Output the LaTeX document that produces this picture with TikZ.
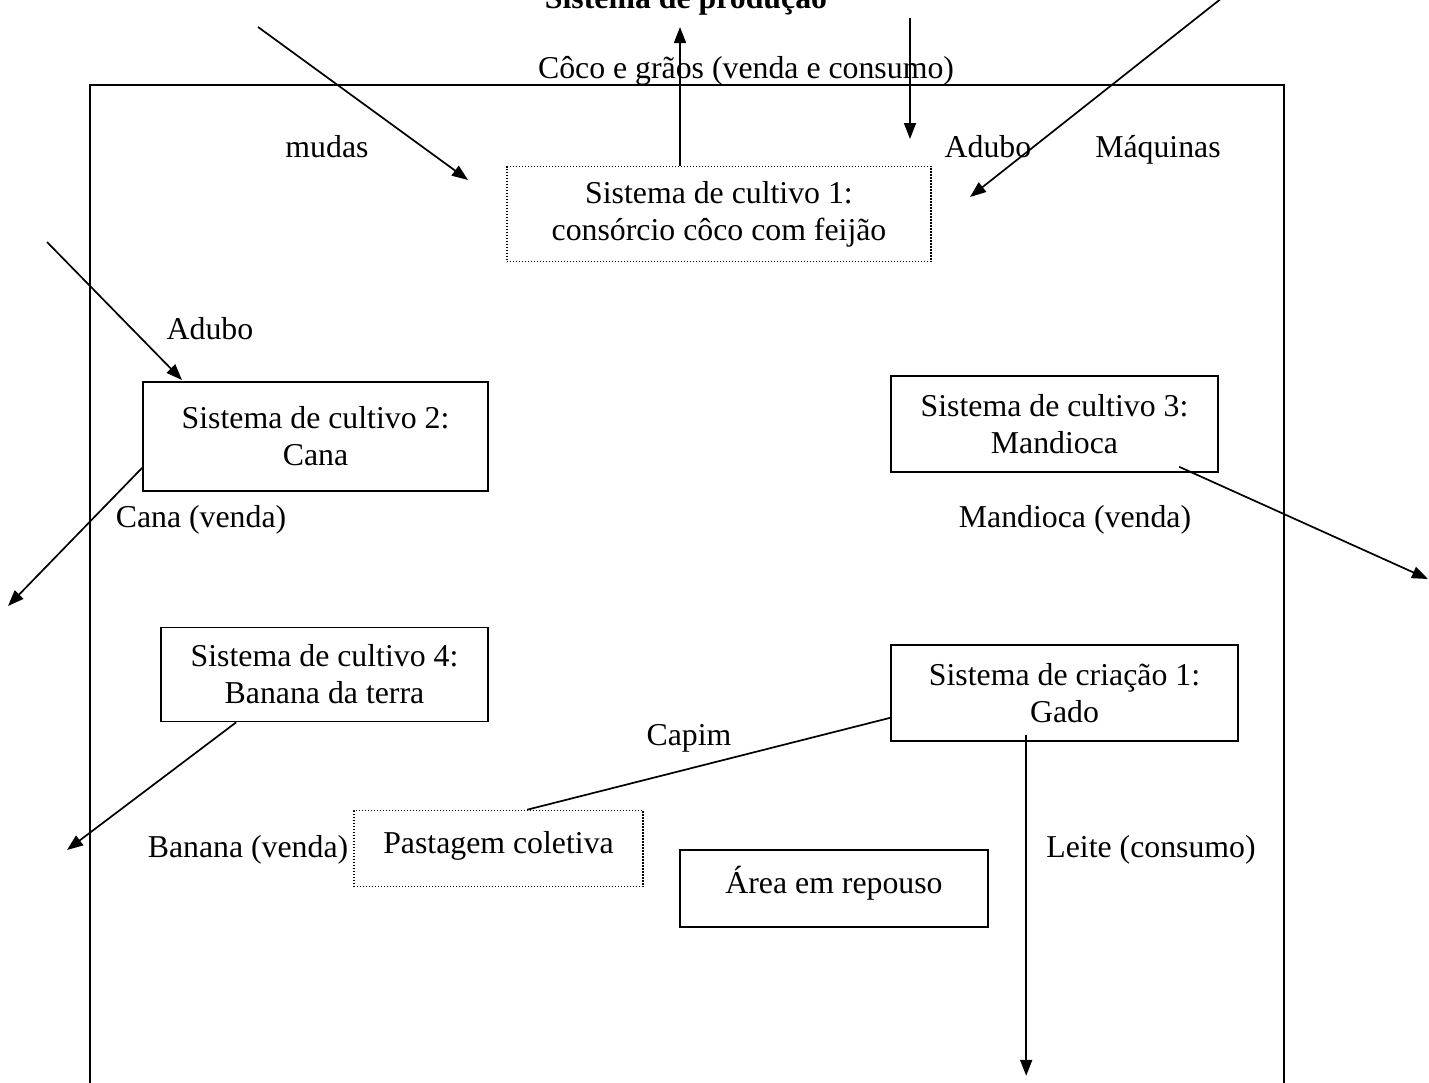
\documentclass[tikz,border=0pt]{standalone}
\usepackage{fontspec}
\setmainfont{Liberation Serif}
\usetikzlibrary{arrows.meta,calc}
\begin{document}
\begin{tikzpicture}[x=1pt,y=-1pt,
  base/.style={font=\fontsize{31.8pt}{37pt}\selectfont, inner sep=0pt, align=center},
  txt/.style={base, text height=22pt, text depth=6pt},
  solidbox/.style={base, draw, line width=1.6pt},
  dotbox/.style={base, draw, line width=1.6pt, dash pattern=on 1.4pt off 1.6pt},
  arr/.style={line width=1.7pt, -{Triangle[length=16pt,width=12pt]}},
  plain/.style={line width=1.7pt},
  frame/.style={line width=2.2pt}
]
\useasboundingbox (0,0) rectangle (1429,1082);
\fill[white] (0,0) rectangle (1429,1082);

% outer frame
\draw[frame] (90,1095) -- (90,85) -- (1284,85) -- (1284,1095);

% title (cut by the top edge, as in the reference)
\node[base, font=\fontsize{31.8pt}{37pt}\selectfont\bfseries, anchor=base] (title) at (686,8) {Sistema de produção};

% boxes
\node[dotbox, minimum width=424pt, minimum height=95pt] (b1) at (719,214) {Sistema de cultivo 1:\\consórcio côco com feijão};
\node[solidbox, minimum width=345pt, minimum height=109pt] (b2) at (315.5,436.5) {Sistema de cultivo 2:\\Cana};
\node[solidbox, minimum width=327pt, minimum height=96pt] (b3) at (1054.5,424) {Sistema de cultivo 3:\\Mandioca};
\node[solidbox, minimum width=327pt, minimum height=94pt] (b4) at (324.5,674.5) {Sistema de cultivo 4:\\Banana da terra};
\node[solidbox, minimum width=347pt, minimum height=96pt] (bc) at (1064.5,693) {Sistema de criação 1:\\Gado};
\node[dotbox, minimum width=289pt, minimum height=76pt, text height=22pt, text depth=12pt] (past) at (498.5,848.5) {Pastagem coletiva};
\node[solidbox, minimum width=308pt, minimum height=77pt, text height=22pt, text depth=13pt] (area) at (834,888.5) {Área em repouso};

% labels
\node[txt] (lcoco) at (746,70) {Côco e grãos (venda e consumo)};
\node[txt] (lmudas) at (327,149) {mudas};
\node[txt] (ladubo1) at (988,149) {Adubo};
\node[txt] (lmaq) at (1158,149) {Máquinas};
\node[txt] (ladubo2) at (210,331) {Adubo};
\node[txt] (lcana) at (201,519) {Cana (venda)};
\node[txt] (lmand) at (1075,519) {Mandioca (venda)};
\node[txt] (lbanana) at (248,849) {Banana (venda)};
\node[txt] (lcapim) at (689,737) {Capim};
\node[txt] (lleite) at (1151,849) {Leite (consumo)};

% free ends
\coordinate (upTip) at (680,27);
\coordinate (adS) at (910,18);
\coordinate (adE) at (910,139);
\coordinate (mqS) at (1232,-10);
\coordinate (mqE) at (970,197);
\coordinate (mdS) at (258,27);
\coordinate (mdE) at (468,180);
\coordinate (alS) at (47,242);
\coordinate (alE) at (182,380);
\coordinate (canaS) at ($(b2.south west)+(0,-24)$);
\coordinate (canaE) at (8,606);
\coordinate (mandS) at ($(b3.south west)+(289,-6)$);
\coordinate (mandE) at (1428,579);
\coordinate (banS) at ($(b4.south west)+(76,0)$);
\coordinate (banE) at (67,850);
\coordinate (capS) at ($(bc.south west)+(0,-24)$);
\coordinate (capE) at ($(past.north west)+(174,0)$);
\coordinate (leiteS) at ($(bc.south west)+(136,-7)$);
\coordinate (leiteE) at ($(bc.south west)+(136,334)$);

% connectors
\draw[arr] (b1.north -| upTip) -- (upTip);
\draw[arr] (adS) -- (adE);
\draw[arr] (mqS) -- (mqE);
\draw[arr] (mdS) -- (mdE);
\draw[arr] (alS) -- (alE);
\draw[arr] (canaS) -- (canaE);
\draw[arr] (mandS) -- (mandE);
\draw[arr] (banS) -- (banE);
\draw[plain] (capS) -- (capE);
\draw[arr] (leiteS) -- (leiteE);
\end{tikzpicture}
\end{document}
